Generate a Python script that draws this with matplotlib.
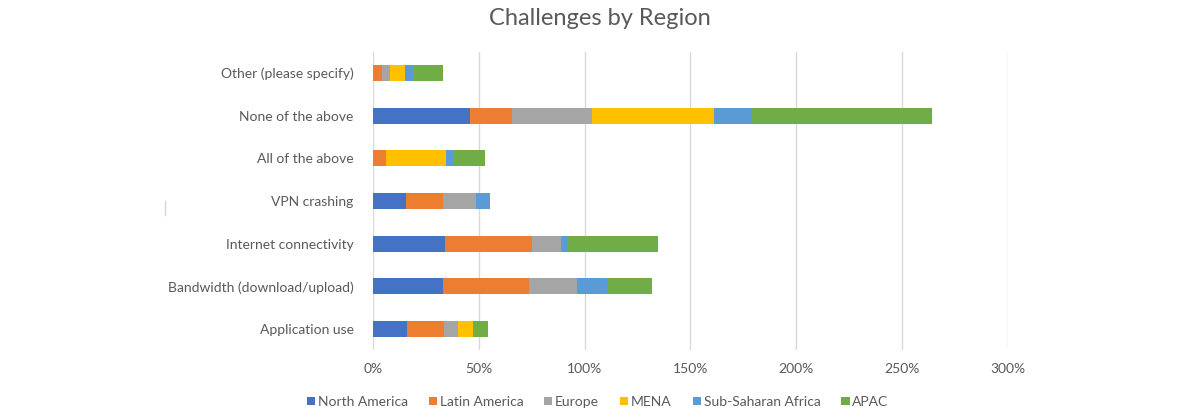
import numpy as np
import matplotlib
matplotlib.use("Agg")
import matplotlib.pyplot as plt
from matplotlib.lines import Line2D
from matplotlib.ticker import FuncFormatter

categories = [
    "Application use",
    "Bandwidth (download/upload)",
    "Internet connectivity",
    "VPN crashing",
    "All of the above",
    "None of the above",
    "Other (please specify)",
]
north_america = [16.2, 32.9, 34.2, 15.8, 0.0, 45.7, 0.0]
latin_america = [17.2, 40.9, 40.7, 17.2, 6.3, 20.0, 4.5]
europe = [6.6, 22.4, 13.7, 15.6, 0.0, 38.0, 3.6]
mena = [7.3, 0.0, 0.0, 0.0, 28.4, 57.2, 7.1]
sub_saharan_africa = [0.0, 14.2, 3.6, 6.8, 3.6, 18.0, 3.5]
apac = [7.1, 21.6, 42.6, 0.0, 14.5, 85.4, 14.2]

series = [
    ("North America", north_america, "#4472C4"),
    ("Latin America", latin_america, "#ED7D31"),
    ("Europe", europe, "#A5A5A5"),
    ("MENA", mena, "#FFC000"),
    ("Sub-Saharan Africa", sub_saharan_africa, "#5B9BD5"),
    ("APAC", apac, "#70AD47"),
]

plt.rcParams["font.family"] = ["Lato", "DejaVu Sans"]

fig = plt.figure(figsize=(12, 4.2), dpi=100)
ax = fig.add_axes([0.3108, 0.166, 0.5292, 0.711])

y = np.arange(len(categories))
left = np.zeros(len(categories))
for name, vals, col in series:
    vals = np.array(vals)
    ax.barh(y, vals, left=left, height=0.38, color=col, label=name, zorder=3)
    left += vals

ax.set_xlim(0, 300)
ax.set_ylim(-0.5, len(categories) - 0.5)
ax.set_xticks(np.arange(0, 301, 50))
ax.xaxis.set_major_formatter(FuncFormatter(lambda v, _: f"{v:.0f}%"))
ax.set_yticks(y)
ax.set_yticklabels(categories)
ax.grid(axis="x", color="#d9d9d9", linewidth=1, zorder=0)
for s in ax.spines.values():
    s.set_visible(False)
ax.tick_params(length=0, colors="#595959", labelsize=10)
ax.tick_params(axis="y", pad=14)
ax.tick_params(axis="x", pad=9)

fig.suptitle("Challenges by Region", x=0.5, y=0.98, fontsize=17, color="#595959")

fig.legend(loc="center", bbox_to_anchor=(0.498, 0.043), ncol=6, frameon=False,
           fontsize=10, handlelength=0.6, handleheight=0.6, handletextpad=0.2,
           columnspacing=1.5, labelcolor="#595959")

# faint stray mark left of the labels
fig.add_artist(Line2D([165 / 1200, 165 / 1200], [1 - 201 / 420, 1 - 215 / 420],
                      color="#d6d6d6", linewidth=1))

fig.savefig("out.png", dpi=100)
